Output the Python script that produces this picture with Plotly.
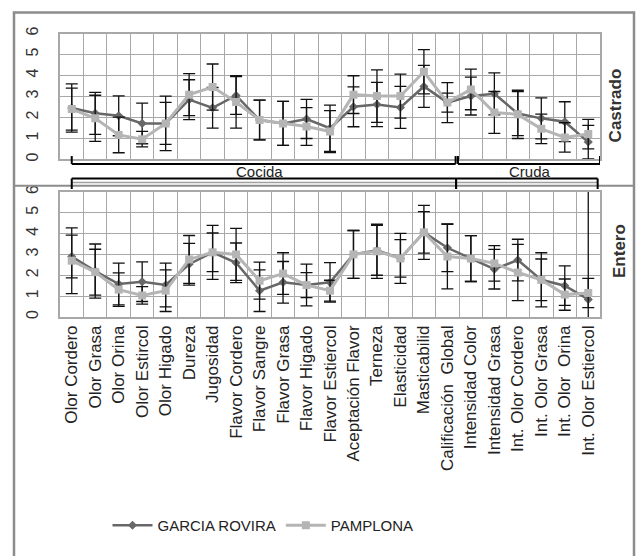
import plotly.graph_objects as go

# ---------------- data ----------------
categories = ["Olor Cordero", "Olor Grasa", "Olor Orina", "Olor Estircol", "Olor Higado",
              "Dureza", "Jugosidad", "Flavor Cordero", "Flavor Sangre", "Flavor Grasa",
              "Flavor Higado", "Flavor Estiercol", "Aceptación Flavor", "Terneza", "Elasticidad",
              "Masticabilid", "Calificación  Global", "Intensidad Color", "Intensidad Grasa",
              "Int. Olor Cordero", "Int. Olor Grasa", "Int. Olor  Orina", "Int. Olor Estiercol"]

group_names = ["Cocida", "Cruda"]
group_sizes = [17, 6]

series_names = ["GARCIA ROVIRA", "PAMPLONA"]
panel_names = ["Castrado", "Entero"]

# Castrado (top panel)
castrado_garcia = [2.45, 2.2, 2.08, 1.72, 1.72, 2.85, 2.46, 3.05, 1.88, 1.72, 1.93, 1.49,
                   2.51, 2.62, 2.48, 3.48, 2.71, 3.02, 3.13, 2.19, 1.96, 1.8, 0.83]
castrado_garcia_err = [1.15, 1.0, 0.95, 0.97, 1.0, 0.95, 0.97, 0.9, 0.95, 1.05, 0.93, 1.1,
                       0.95, 1.05, 1.0, 1.0, 0.45, 0.9, 1.0, 1.05, 0.98, 0.95, 0.8]
castrado_pamplona = [2.4, 1.96, 1.17, 0.97, 1.72, 3.09, 3.45, 2.74, 1.88, 1.72, 1.57, 1.33,
                     3.09, 3.02, 3.02, 4.18, 2.71, 3.34, 2.24, 2.15, 1.46, 1.05, 1.21]
castrado_pamplona_err = [1.0, 1.1, 0.85, 0.37, 1.3, 1.0, 1.1, 1.25, 0.95, 1.05, 0.9, 1.0,
                         0.9, 1.25, 1.05, 1.05, 0.95, 0.97, 1.0, 1.15, 0.7, 0.7, 0.7]

# Entero (bottom panel)
entero_garcia = [2.9, 2.2, 1.58, 1.69, 1.53, 2.53, 3.1, 2.6, 1.26, 1.66, 1.53, 1.66,
                 3.0, 3.2, 2.81, 4.06, 3.32, 2.8, 2.29, 2.73, 1.78, 1.5, 0.84]
entero_garcia_err = [1.03, 1.3, 1.0, 0.95, 1.05, 1.0, 1.3, 0.95, 1.0, 1.0, 1.0, 0.95,
                     1.15, 1.2, 1.2, 1.3, 1.15, 1.1, 0.95, 1.0, 1.3, 0.95, 10.0]
entero_pamplona = [2.7, 2.15, 1.31, 1.03, 1.26, 2.76, 3.1, 3.0, 1.74, 2.08, 1.53, 1.26,
                   3.0, 3.15, 2.81, 4.06, 2.9, 2.8, 2.57, 2.13, 1.78, 1.07, 1.15]
entero_pamplona_err = [1.58, 1.1, 0.8, 0.42, 1.0, 1.15, 0.93, 1.25, 0.89, 1.0, 0.6, 0.5,
                       1.15, 1.3, 0.9, 1.0, 1.55, 1.1, 0.85, 1.35, 1.0, 0.75, 0.7]

y_ticks = [0, 1, 2, 3, 4, 5, 6]

# ---------------- layout helpers ----------------
W, H = 636, 556
def px(x):
    return x / W
def py(y):
    return 1 - y / H

FONT = "Arial, 'Liberation Sans', sans-serif"
DARK = "#676767"
LIGHT = "#B5B5B5"
GRID = "#A8A8A8"

fig = go.Figure()

panels = [
    ("x", "y", castrado_garcia, castrado_garcia_err, castrado_pamplona, castrado_pamplona_err, True),
    ("x2", "y2", entero_garcia, entero_garcia_err, entero_pamplona, entero_pamplona_err, False),
]
for xa, ya, g, ge, p, pe, show in panels:
    fig.add_trace(go.Scatter(
        x=categories, y=g, xaxis=xa, yaxis=ya, name=series_names[0], legendgroup="g",
        showlegend=show, mode="lines+markers",
        line=dict(color=DARK, width=2.5),
        marker=dict(symbol="diamond", size=7, color=DARK),
        error_y=dict(type="data", array=ge, visible=True, color="#111111", thickness=1.3, width=6),
    ))
    fig.add_trace(go.Scatter(
        x=categories, y=p, xaxis=xa, yaxis=ya, name=series_names[1], legendgroup="p",
        showlegend=show, mode="lines+markers",
        line=dict(color=LIGHT, width=3),
        marker=dict(symbol="square", size=8, color=LIGHT),
        error_y=dict(type="data", array=pe, visible=True, color="#111111", thickness=1.3, width=6),
    ))

xdom = [px(60), px(600)]
common_x = dict(domain=xdom, type="category", range=[-0.5, len(categories) - 0.5],
                tickson="boundaries", showgrid=True, gridcolor=GRID, gridwidth=1,
                showline=True, linecolor=GRID, linewidth=1.5, mirror=True, ticks="")
common_y = dict(range=[0, 6], tickvals=y_ticks, ticktext=[str(v) for v in y_ticks],
                showgrid=True, gridcolor=GRID, gridwidth=1, zeroline=False,
                showline=True, linecolor=GRID, linewidth=1.5, mirror=True,
                tickangle=-90, tickfont=dict(family=FONT, size=16, color="#333333"),
                ticks="", ticklabelstandoff=14)

fig.update_layout(
    width=W, height=H, margin=dict(l=0, r=0, t=0, b=0),
    paper_bgcolor="white", plot_bgcolor="white",
    font=dict(family=FONT, color="#222222"),
    xaxis=dict(common_x, anchor="y", showticklabels=False),
    xaxis2=dict(common_x, anchor="y2", matches="x", showticklabels=True, tickangle=-90,
                tickfont=dict(family=FONT, size=17, color="#222222")),
    yaxis=dict(common_y, domain=[py(155), py(27)], anchor="x"),
    yaxis2=dict(common_y, domain=[py(315), py(188)], anchor="x2"),
    legend=dict(orientation="h", x=px(263), xanchor="center", y=py(527), yanchor="middle",
                font=dict(family=FONT, size=15, color="#222222"), itemwidth=40,
                bgcolor="rgba(0,0,0,0)"),
    showlegend=True,
)

shapes = []
# outer frame
shapes.append(dict(type="rect", xref="paper", yref="paper", x0=px(14), x1=px(634), y0=py(560), y1=py(5.5),
                   line=dict(color="#8C8C8C", width=2.5), fillcolor="rgba(0,0,0,0)", layer="above"))
# panel divider
shapes.append(dict(type="line", xref="paper", yref="paper", x0=px(14), x1=px(634), y0=py(181.7), y1=py(181.7),
                   line=dict(color="#8C8C8C", width=2)))
shapes.append(dict(type="line", xref="x", yref="paper", x0=0, x1=22.4, y0=py(178.3), y1=py(178.3),
                   line=dict(color="#A0A0A0", width=1.5)))

# group brackets from group sizes
start = 0
bounds = []
for n in group_sizes:
    bounds.append((start, start + n))
    start += n
blk = dict(color="black", width=2)
# lower bracket of top panel
for gi, (a, b) in enumerate(bounds):
    xa = 0 if gi == 0 else a - 0.55
    xb = b - 0.65 if gi == 0 else b - 0.5
    shapes.append(dict(type="line", xref="x", yref="paper", x0=xa, x1=xb, y0=py(159.5), y1=py(159.5), line=blk))
    for xx in (xa, xb):
        shapes.append(dict(type="line", xref="x", yref="paper", x0=xx, x1=xx, y0=py(159.5), y1=py(151.5), line=blk))
# upper bracket of bottom panel
for gi, (a, b) in enumerate(bounds):
    xa = 0 if gi == 0 else a - 0.63
    xb = b - 0.63 if gi == 0 else b - 0.6
    shapes.append(dict(type="line", xref="x", yref="paper", x0=xa, x1=xb, y0=py(174.3), y1=py(174.3), line=blk))
    for xx in (xa, xb):
        shapes.append(dict(type="line", xref="x", yref="paper", x0=xx, x1=xx, y0=py(174.3), y1=py(185), line=blk))
fig.update_layout(shapes=shapes)

annotations = []
for gi, (a, b) in enumerate(bounds):
    cx = (a + b - 1) / 2
    annotations.append(dict(text=group_names[gi], xref="x", yref="paper", x=cx, y=py(167),
                            showarrow=False, font=dict(family=FONT, size=15, color="#222222"),
                            xanchor="center", yanchor="middle"))
annotations.append(dict(text="<b>%s</b>" % panel_names[0], xref="paper", yref="paper", x=px(615), y=py(100),
                        textangle=-90, showarrow=False, font=dict(family=FONT, size=17, color="#333333"),
                        xanchor="center", yanchor="middle"))
annotations.append(dict(text="<b>%s</b>" % panel_names[1], xref="paper", yref="paper", x=px(620), y=py(248),
                        textangle=-90, showarrow=False, font=dict(family=FONT, size=17, color="#333333"),
                        xanchor="center", yanchor="middle"))
fig.update_layout(annotations=annotations)

fig.write_html("out.html", config={"displayModeBar": False},
               post_script="document.body.style.margin='0';document.body.style.overflow='hidden';")
